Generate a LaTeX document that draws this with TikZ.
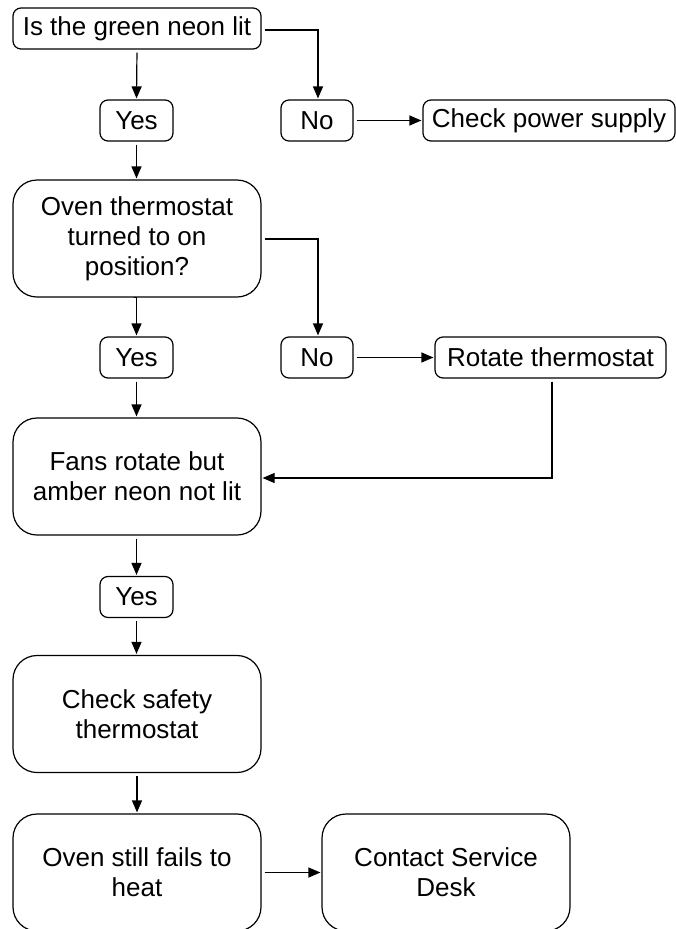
\documentclass[tikz,border=0pt]{standalone}
\usepackage{fontspec}
\setmainfont{Liberation Sans}
\usetikzlibrary{arrows.meta}
\begin{document}
\begin{tikzpicture}[x=1pt,y=-1pt,
  every node/.style={font=\fontsize{26}{30}\selectfont, align=center, inner sep=0pt},
  bigbox/.style={draw, line width=1.2pt, rounded corners=24pt, minimum width=248pt, minimum height=117pt},
  smallbox/.style={draw, line width=1.2pt, rounded corners=8pt, minimum height=41pt},
  conn/.style={line width=1.2pt, -{Triangle[length=12pt,width=10pt]}, shorten <=3pt, shorten >=1pt}]
\useasboundingbox (0,0) rectangle (676,929);
\clip (0,0) rectangle (676,929);
\node[smallbox, minimum width=248pt] (q1) at (137,28.5) {Is the green neon lit};
\node[smallbox, minimum width=73pt] (y1) at (136.5,120.5) {Yes};
\node[smallbox, minimum width=72pt] (n1) at (317,120.5) {No};
\node[smallbox, minimum width=252pt] (pw) at (549,120.5) {Check power supply};
\node[bigbox] (q2) at (137,238.5) {Oven thermostat\\turned to on\\position?};
\node[smallbox, minimum width=73pt] (y2) at (136.5,357.5) {Yes};
\node[smallbox, minimum width=72pt] (n2) at (317,357.5) {No};
\node[smallbox, minimum width=231pt] (rt) at (550.5,357.5) {Rotate thermostat};
\node[bigbox] (q3) at (137,476.5) {Fans rotate but\\amber neon not lit};
\node[smallbox, minimum width=73pt] (y3) at (136.5,597) {Yes};
\node[bigbox] (cs) at (137,714) {Check safety\\thermostat};
\node[bigbox] (os) at (137,872.5) {Oven still fails to\\heat};
\node[bigbox] (sd) at (446,872.5) {Contact Service\\Desk};
\coordinate (k1) at (318,30);
\coordinate (k2) at (318,239);
\coordinate (k3) at (552,478);
\draw[conn] (q1.south) -- (y1.north);
\draw[conn] (q1.east |- k1) -- (k1) -- (k1 |- n1.north);
\draw[conn] (n1.east) -- (pw.west);
\draw[conn] (y1.south) -- (y1.south |- q2.north);
\draw[conn] (q2.east |- k2) -- (k2) -- (k2 |- n2.north);
\draw[conn] (q2.south) -- (q2.south -| y2.north) -- (y2.north);
\draw[conn] (n2.east) -- (rt.west);
\draw[conn] (y2.south) -- (y2.south |- q3.north);
\draw[conn] (rt.south -| k3) -- (k3) -- (q3.east |- k3);
\draw[conn] (q3.south -| y3.north) -- (y3.north);
\draw[conn] (y3.south) -- (y3.south |- cs.north);
\draw[conn] (cs.south) -- (os.north);
\draw[conn] (os.east) -- (sd.west);
\end{tikzpicture}
\end{document}
